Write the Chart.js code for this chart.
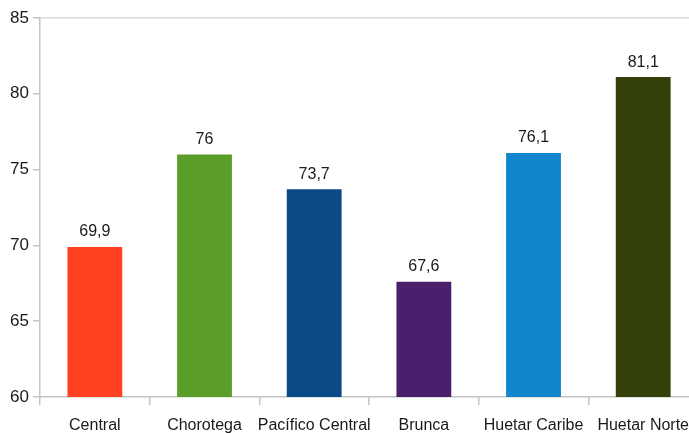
<!DOCTYPE html>
<html><head><meta charset="utf-8">
<script src="https://cdn.jsdelivr.net/npm/chart.js@4.4.0/dist/chart.umd.min.js"></script>
<style>html,body{margin:0;padding:0;background:#fff;overflow:hidden;width:689px;height:433px}#wrap{width:700px;height:433px}</style>
</head><body><div id="wrap"><canvas id="c" width="700" height="433"></canvas></div>
<script>
const categories = ["Central","Chorotega","Pacífico Central","Brunca","Huetar Caribe","Huetar Norte"];
const values = [69.9, 76, 73.7, 67.6, 76.1, 81.1];
const barColors = ["#FF4122","#5A9E29","#0B4A87","#4A1F6B","#1385CF","#33400A"];
const yMin = 60, yMax = 85, yStep = 5;

const valueLabels = {
  id:'valueLabels',
  afterDatasetsDraw(chart){
    const ctx = chart.ctx;
    const meta = chart.getDatasetMeta(0);
    ctx.save();
    ctx.font = '16px "Liberation Sans", Arial, sans-serif';
    ctx.fillStyle = '#1a1a1a';
    ctx.textAlign = 'center';
    ctx.textBaseline = 'bottom';
    meta.data.forEach((bar,i)=>{
      ctx.fillText(String(values[i]).replace('.',','), bar.x, bar.y - 7);
    });
    ctx.restore();
  }
};

new Chart(document.getElementById('c'), {
  type:'bar',
  data:{labels:categories, datasets:[{data:values, backgroundColor:barColors, barPercentage:0.5, categoryPercentage:1}]},
  options:{
    responsive:false, animation:false,
    layout:{padding:{left:0,top:18,right:0,bottom:0}},
    plugins:{legend:{display:false}, tooltip:{enabled:false}},
    scales:{
      x:{
        afterFit(s){ s.height = 36; },
        grid:{offset:true, drawOnChartArea:false, color:'#c4c4c4', tickLength:8, lineWidth:1.5},
        border:{color:'#c4c4c4', width:1.5},
        ticks:{color:'#1a1a1a', font:{family:'"Liberation Sans", Arial, sans-serif', size:16}, padding:11, maxRotation:0, autoSkip:false}
      },
      y:{
        min:yMin, max:yMax,
        afterFit(s){ s.width = 40; },
        grid:{color:c=>c.tick && c.tick.value===yMax ? '#d8d8d8':'rgba(0,0,0,0)', tickColor:'#c4c4c4', tickLength:7, lineWidth:1.5},
        border:{color:'#c4c4c4', width:1.5},
        ticks:{stepSize:yStep, color:'#1a1a1a', font:{family:'"Liberation Sans", Arial, sans-serif', size:17}, padding:4}
      }
    }
  },
  plugins:[valueLabels]
});
</script></body></html>
